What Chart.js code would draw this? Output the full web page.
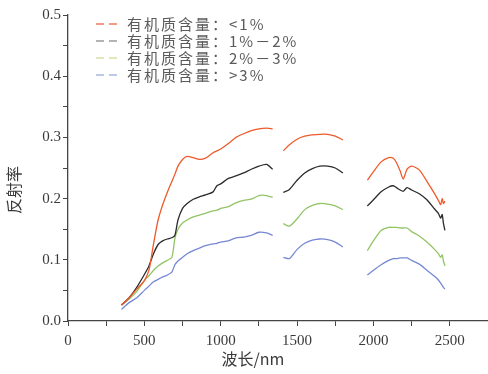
<!DOCTYPE html>
<html>
<head>
<meta charset="utf-8">
<script src="https://cdn.jsdelivr.net/npm/chart.js@4.4.1/dist/chart.umd.min.js"></script>
<style>
  html, body { margin: 0; padding: 0; background: #fff; }
  #wrap { width: 488px; height: 374px; position: relative; }
</style>
</head>
<body>
<div id="wrap"><canvas id="spectra"></canvas></div>
<script>
// --- DATA ---
// null entries break the line at the water absorption bands
const wavelengths = [
  350, 400, 450, 500, 530, 560, 590, 620, 650, 680, 700, 720, 750, 780, 820, 860, 900, 950, 975, 1000,
  1050, 1100, 1150, 1200, 1250, 1300, 1340,
  1375,
  1410, 1450, 1500, 1550, 1600, 1650, 1700, 1750, 1800,
  1880,
  1960, 2000, 2050, 2100, 2130, 2150, 2175, 2195, 2220, 2250, 2300, 2350, 2400, 2425, 2440, 2450, 2458, 2468
];

const somBelow1 = [
  0.026, 0.038, 0.052, 0.066, 0.083, 0.126, 0.165, 0.190, 0.210, 0.228, 0.240, 0.253, 0.264, 0.269, 0.267, 0.264, 0.266, 0.275, 0.278, 0.281,
  0.290, 0.300, 0.306, 0.311, 0.314, 0.315, 0.314,
  null,
  0.278, 0.288, 0.297, 0.302, 0.304, 0.305, 0.305, 0.302, 0.296,
  null,
  0.230, 0.244, 0.260, 0.267, 0.266, 0.259, 0.245, 0.232, 0.248, 0.253, 0.247, 0.228, 0.208, 0.197, 0.190, 0.200, 0.192, 0.196
];
const som1to2 = [
  0.026, 0.038, 0.055, 0.076, 0.090, 0.110, 0.125, 0.131, 0.134, 0.136, 0.140, 0.165, 0.184, 0.192, 0.199, 0.203, 0.206, 0.211, 0.221, 0.224,
  0.233, 0.237, 0.242, 0.248, 0.253, 0.256, 0.248,
  null,
  0.210, 0.215, 0.230, 0.242, 0.249, 0.253, 0.253, 0.250, 0.242,
  null,
  0.188, 0.198, 0.211, 0.219, 0.221, 0.218, 0.214, 0.212, 0.218, 0.214, 0.208, 0.198, 0.183, 0.176, 0.168, 0.174, 0.160, 0.148
];
const som2to3 = [
  0.026, 0.036, 0.048, 0.066, 0.074, 0.083, 0.090, 0.095, 0.099, 0.104, 0.135, 0.150, 0.160, 0.165, 0.170, 0.173, 0.176, 0.180, 0.181, 0.184,
  0.187, 0.193, 0.197, 0.199, 0.205, 0.205, 0.202,
  null,
  0.159, 0.155, 0.167, 0.182, 0.189, 0.192, 0.191, 0.188, 0.182,
  null,
  0.115, 0.131, 0.148, 0.153, 0.153, 0.153, 0.152, 0.152, 0.152, 0.146, 0.139, 0.129, 0.117, 0.110, 0.104, 0.108, 0.098, 0.090
];
const somAbove3 = [
  0.019, 0.030, 0.038, 0.050, 0.057, 0.064, 0.068, 0.072, 0.075, 0.080, 0.092, 0.098, 0.104, 0.110, 0.115, 0.119, 0.123, 0.126, 0.127, 0.129,
  0.131, 0.136, 0.137, 0.140, 0.145, 0.144, 0.140,
  null,
  0.104, 0.102, 0.117, 0.127, 0.132, 0.134, 0.133, 0.129, 0.121,
  null,
  0.075, 0.083, 0.092, 0.099, 0.102, 0.102, 0.103, 0.103, 0.103, 0.099, 0.093, 0.083, 0.073, 0.067, 0.062, 0.058, 0.055, 0.052
];

const seriesNames = ['有机质含量：<1%', '有机质含量：1%－2%', '有机质含量：2%－3%', '有机质含量：>3%'];
const xTickLabels = [0, 500, 1000, 1500, 2000, 2500];
const yTickLabels = [0.0, 0.1, 0.2, 0.3, 0.4, 0.5];

const lineColors = ['#ee5a2c', '#2b2b2b', '#92c466', '#7688d4'];
const legendColors = ['#f07a5a', '#9a9a9a', '#d6dfa4', '#a9b8e2'];
const AXIS = '#444';
const TEXT = '#3a3a3a';

// legend + axis titles drawn straight onto the canvas
const decorations = {
  id: 'decorations',
  afterDraw(chart) {
    const ctx = chart.ctx;
    ctx.save();
    // legend
    ctx.font = '15px "Noto Sans CJK SC"';
    ctx.textBaseline = 'middle';
    seriesNames.forEach((name, i) => {
      const y = 24 + i * 17;
      ctx.strokeStyle = legendColors[i];
      ctx.lineWidth = 1.3;
      ctx.setLineDash([8, 5]);
      ctx.beginPath();
      ctx.moveTo(96, y);
      ctx.lineTo(118, y);
      ctx.stroke();
      ctx.setLineDash([]);
      ctx.fillStyle = '#5a5a5a';
      ctx.letterSpacing = '2px';
      ctx.fillText(name, 127, y);
      ctx.letterSpacing = '0px';
    });
    // x title
    ctx.fillStyle = TEXT;
    ctx.textAlign = 'center';
    ctx.font = '16px "Noto Sans CJK SC"';
    ctx.fillText('波长/nm', 253, 359);
    // y title
    ctx.translate(14, 190);
    ctx.rotate(-Math.PI / 2);
    ctx.fillText('反射率', 0, 0);
    ctx.restore();
  }
};

const ctx = document.getElementById('spectra').getContext('2d');
new Chart(ctx, {
  type: 'line',
  data: {
    labels: wavelengths,
    datasets: [somBelow1, som1to2, som2to3, somAbove3].map((vals, i) => ({
      label: seriesNames[i],
      data: vals,
      borderColor: lineColors[i],
      borderWidth: 1.3,
      pointRadius: 0,
      tension: 0.25,
      spanGaps: false,
      fill: false
    }))
  },
  options: {
    responsive: true,
    maintainAspectRatio: false,
    animation: false,
    layout: { padding: { top: 15, right: 0, left: 0, bottom: 0 } },
    plugins: { legend: { display: false }, tooltip: { enabled: false } },
    scales: {
      x: {
        type: 'linear',
        min: 0,
        max: 2750,
        afterFit: s => { s.height = 53; s.paddingRight = 0; s.paddingLeft = 0; },
        afterBuildTicks: s => {
          const t = [];
          for (let v = 0; v <= 2750; v += 250) t.push({ value: v });
          s.ticks = t;
        },
        border: { color: AXIS, width: 1.3 },
        grid: { drawOnChartArea: false, color: AXIS, tickLength: 5, lineWidth: 1 },
        ticks: {
          autoSkip: false,
          maxRotation: 0,
          padding: 6,
          color: TEXT,
          font: { family: '"Liberation Serif"', size: 15 },
          callback: v => xTickLabels.includes(v) ? String(v) : ''
        }
      },
      y: {
        min: 0,
        max: 0.5,
        afterFit: s => { s.width = 68; },
        afterBuildTicks: s => {
          const t = [];
          for (let k = 0; k <= 10; k++) t.push({ value: k * 0.05 });
          s.ticks = t;
        },
        border: { color: AXIS, width: 1.3 },
        grid: { drawOnChartArea: false, color: AXIS, tickLength: 5, lineWidth: 1 },
        ticks: {
          autoSkip: false,
          padding: 2,
          color: TEXT,
          font: { family: '"Liberation Serif"', size: 15 },
          callback: v => {
            const r = Math.round(v * 10) / 10;
            return Math.abs(r - v) < 1e-6 && yTickLabels.includes(r) ? r.toFixed(1) : '';
          }
        }
      }
    }
  },
  plugins: [decorations]
});
</script>
</body>
</html>
